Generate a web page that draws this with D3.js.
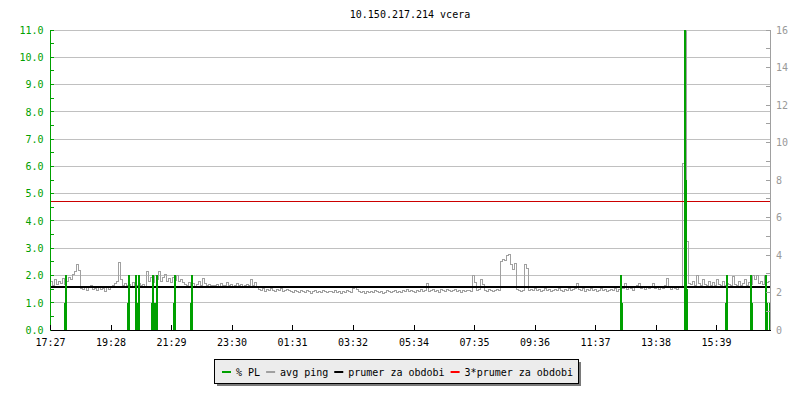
<!DOCTYPE html>
<html>
<head>
<meta charset="utf-8">
<script src="https://cdn.jsdelivr.net/npm/d3@7"></script>
<style>
  body { margin: 0; background: #fff; }
  svg text { font-family: "DejaVu Sans Mono", monospace; font-size: 10px; }
</style>
</head>
<body>
<div id="chart"></div>
<script>
// chart data
const chartTitle = '10.150.217.214 vcera';
const pingStepMinutes = 4;
// avg ping (ms, right axis), one value every 4 minutes from 17:27
const pingAvg = [
  2.6, 2.4, 2.7, 2.45, 2.6, 2.5, 2.75, 2.45, 2.6, 2.8, 2.7, 2.95, 3.1, 3.5, 3.2, 2.2, 2.15, 2.3, 2.1, 2.25,
  2.4, 2.15, 2.2, 2.1, 2.3, 2.15, 2.2, 2.05, 2.25, 2.15, 2.3, 2.35, 2.5, 2.6, 3.6, 2.7, 2.4, 2.5, 2.35, 2.45,
  2.3, 2.55, 2.4, 2.35, 2.5, 2.4, 2.45, 2.3, 3.1, 2.6, 2.8, 2.55, 2.9, 2.7, 3.1, 2.6, 2.8, 2.95, 2.6, 2.75,
  2.55, 2.8, 2.65, 2.9, 2.6, 2.7, 2.55, 2.45, 2.35, 2.55, 2.4, 2.5, 2.3, 2.45, 2.6, 2.4, 2.75, 2.5, 2.35, 2.45,
  2.4, 2.4, 2.35, 2.45, 2.3, 2.5, 2.35, 2.4, 2.55, 2.35, 2.45, 2.3, 2.4, 2.5, 2.35, 2.45, 2.3, 2.4, 2.45, 2.35,
  2.7, 2.4, 2.55, 2.3, 2.15, 2.1, 2.2, 2.05, 2.15, 2.1, 2.2, 2.1, 2.05, 2.15, 2.1, 2.2, 2.05, 2.1, 2.15, 2.1,
  2.05, 2.0, 2.1, 2.05, 2.0, 2.1, 2.05, 2.0, 2.1, 2.05, 1.95, 2.05, 2.1, 2.0, 2.05, 2.0, 2.1, 2.05, 2.0, 2.05,
  2.05, 2.0, 2.1, 2.0, 2.05, 1.95, 2.05, 2.0, 2.1, 2.05, 2.0, 2.2, 2.25, 2.15, 2.05, 2.0, 2.05, 1.95, 2.05, 2.0,
  2.05, 2.0, 2.1, 2.05, 2.0, 2.05, 1.95, 2.0, 2.1, 2.05, 2.0, 2.05, 2.1, 2.0, 2.05, 2.0, 2.1, 2.05, 2.15, 2.05,
  2.1, 2.05, 2.0, 2.1, 2.05, 2.15, 2.05, 2.1, 2.5, 2.05, 2.1, 2.15, 2.05, 2.1, 2.0, 2.15, 2.1, 2.05, 2.15, 2.1,
  2.05, 2.1, 2.15, 2.05, 2.1, 2.0, 2.1, 2.05, 2.1, 2.1, 2.05, 2.93, 2.55, 2.1, 2.15, 2.7, 2.45, 2.1, 2.05, 2.15,
  2.1, 2.05, 2.1, 2.15, 2.1, 3.64, 3.75, 3.7, 3.95, 4.05, 3.5, 3.25, 3.55, 2.15, 2.1, 2.05, 2.1, 3.5, 3.3, 2.1,
  2.15, 2.1, 2.2, 2.1, 2.15, 2.05, 2.1, 2.2, 2.1, 2.15, 2.05, 2.1, 2.15, 2.1, 2.2, 2.1, 2.05, 2.15, 2.1, 2.2,
  2.1, 2.15, 2.2, 2.5, 2.15, 2.1, 2.2, 2.05, 2.15, 2.1, 2.2, 2.1, 2.15, 2.05, 2.1, 2.2, 2.1, 2.15, 2.05, 2.1,
  2.15, 2.1, 2.2, 2.05, 2.15, 2.25, 2.2, 2.5, 2.15, 2.3, 2.2, 2.1, 2.25, 2.35, 2.5, 2.2, 2.3, 2.15, 2.25, 2.2,
  2.3, 2.5, 2.2, 2.25, 2.15, 2.3, 2.2, 2.35, 2.77, 2.25, 2.15, 2.3, 2.2, 2.15, 2.25, 2.3, 8.9, 16, 4.7, 2.5,
  2.45, 2.6, 2.35, 2.93, 2.5, 2.4, 2.7, 2.45, 2.35, 2.6, 2.4, 2.55, 2.35, 2.7, 2.45, 2.4, 2.6, 2.35, 2.5, 2.45,
  2.4, 2.85, 2.45, 2.35, 2.6, 2.4, 2.5, 2.7, 2.4, 2.55, 2.45, 2.9, 2.7, 2.9, 2.5, 2.6, 2.45, 2.93, 2.55, 2.6
];
// packet loss (% PL, left axis): 2-minute samples that were not zero
const lossStepMinutes = 2;
const lossMinutes = [28, 30, 154, 156, 170, 172, 174, 176, 202, 204, 206, 208, 210, 212,
  246, 248, 280, 282, 1140, 1142, 1268, 1270, 1272, 1350, 1352, 1400, 1402, 1430, 1432, 1438];
const lossValues = [1, 2, 1, 2, 2, 1, 1, 2, 1, 2, 1, 1, 1, 2,
  1, 2, 1, 2, 2, 1, 11.5, 5.5, 1.5, 1, 2, 2, 1, 2, 1, 1];
const periodMean = 2.29; // "prumer za obdobi", ms
const totalMinutes = 1440;
const xTickMinutes = [0, 121, 242, 363, 484, 605, 727, 848, 969, 1090, 1211, 1332];
const xTickLabels = ['17:27', '19:28', '21:29', '23:30', '01:31', '03:32', '05:34', '07:35', '09:36', '11:37', '13:38', '15:39'];
const legendLabels = ['% PL', 'avg ping', 'prumer za obdobi', '3*prumer za obdobi'];
const legendColors = ['#00a000', '#a0a0a0', '#000000', '#ff0000'];

const width = 800, height = 400;
const plot = { left: 50, right: 770, top: 30, bottom: 330 };
const green = '#00a000';
const gray = '#a0a0a0';

const svg = d3.select('#chart').append('svg')
  .attr('width', width)
  .attr('height', height);

// scales
const x = d3.scaleLinear().domain([0, totalMinutes]).range([plot.left, plot.right]);
const yLoss = d3.scaleLinear().domain([0, 11]).range([plot.bottom, plot.top]);
const yPing = d3.scaleLinear().domain([0, 16]).range([plot.bottom, plot.top]);

svg.append('defs').append('clipPath').attr('id', 'plot-clip')
  .append('rect')
  .attr('x', plot.left)
  .attr('y', plot.top)
  .attr('width', plot.right - plot.left)
  .attr('height', plot.bottom - plot.top);

// title
svg.append('text')
  .attr('x', (plot.left + plot.right) / 2)
  .attr('y', 18)
  .attr('text-anchor', 'middle')
  .attr('fill', '#000')
  .text(chartTitle);

// horizontal grid on the left axis
svg.append('g')
  .attr('shape-rendering', 'crispEdges')
  .selectAll('line')
  .data(d3.range(1, 12))
  .join('line')
  .attr('x1', plot.left)
  .attr('x2', plot.right)
  .attr('y1', (d) => yLoss(d))
  .attr('y2', (d) => yLoss(d))
  .attr('stroke', '#c0c0c0');

const chart = svg.append('g').attr('clip-path', 'url(#plot-clip)');

// avg ping, drawn as steps like rrdtool does
const pingPoints = pingAvg.map((v, i) => [i * pingStepMinutes, v]);
pingPoints.push([totalMinutes, pingAvg[pingAvg.length - 1]]);
chart.append('path')
  .datum(pingPoints)
  .attr('fill', 'none')
  .attr('stroke', gray)
  .attr('stroke-width', 1)
  .attr('shape-rendering', 'crispEdges')
  .attr('d', d3.line()
    .x((d) => x(d[0]))
    .y((d) => yPing(d[1]))
    .curve(d3.curveStepAfter));

// mean lines
chart.append('line')
  .attr('x1', plot.left).attr('x2', plot.right)
  .attr('y1', yPing(periodMean)).attr('y2', yPing(periodMean))
  .attr('stroke', '#000')
  .attr('stroke-width', 2)
  .attr('shape-rendering', 'crispEdges');
chart.append('line')
  .attr('x1', plot.left).attr('x2', plot.right)
  .attr('y1', yPing(3 * periodMean)).attr('y2', yPing(3 * periodMean))
  .attr('stroke', '#cc0000')
  .attr('stroke-width', 1)
  .attr('shape-rendering', 'crispEdges');

// packet loss, one bar per lossy sample
chart.append('g')
  .attr('shape-rendering', 'crispEdges')
  .selectAll('rect')
  .data(lossMinutes.map((m, i) => ({ minute: m, value: lossValues[i] })))
  .join('rect')
  .attr('x', (d) => Math.round(x(d.minute)))
  .attr('width', (d) => Math.round(x(d.minute + lossStepMinutes)) - Math.round(x(d.minute)) + 1)
  .attr('y', (d) => yLoss(d.value))
  .attr('height', (d) => yLoss(0) - yLoss(d.value))
  .attr('fill', green);

// left axis (% PL)
const leftAxis = svg.append('g')
  .attr('transform', `translate(${plot.left},0)`)
  .attr('shape-rendering', 'crispEdges');
leftAxis.append('line')
  .attr('y1', plot.top).attr('y2', plot.bottom)
  .attr('stroke', green);
leftAxis.selectAll('.minor')
  .data(d3.range(0, 11.5, 0.5))
  .join('line')
  .attr('class', 'minor')
  .attr('x1', 0).attr('x2', 4)
  .attr('y1', (d) => yLoss(d)).attr('y2', (d) => yLoss(d))
  .attr('stroke', green);
leftAxis.selectAll('text')
  .data(d3.range(0, 12))
  .join('text')
  .attr('x', -6.5)
  .attr('y', (d) => yLoss(d))
  .attr('dy', '0.38em')
  .attr('text-anchor', 'end')
  .attr('fill', green)
  .text(d3.format('.1f'));

// right axis (avg ping)
const rightAxis = svg.append('g')
  .attr('transform', `translate(${plot.right},0)`)
  .attr('shape-rendering', 'crispEdges');
rightAxis.append('line')
  .attr('y1', plot.top).attr('y2', plot.bottom)
  .attr('stroke', gray);
rightAxis.selectAll('.minor')
  .data(d3.range(0, 17))
  .join('line')
  .attr('class', 'minor')
  .attr('x1', -4).attr('x2', 0)
  .attr('y1', (d) => yPing(d)).attr('y2', (d) => yPing(d))
  .attr('stroke', gray);
rightAxis.selectAll('text')
  .data(d3.range(0, 17, 2))
  .join('text')
  .attr('x', 6)
  .attr('y', (d) => yPing(d))
  .attr('dy', '0.38em')
  .attr('fill', '#999')
  .text((d) => d);

// bottom time axis
const xAxis = d3.axisBottom(x)
  .tickValues(xTickMinutes)
  .tickFormat((d, i) => xTickLabels[i])
  .tickSize(-5)
  .tickSizeOuter(0)
  .tickPadding(8.5);
const xAxisG = svg.append('g')
  .attr('transform', `translate(0,${plot.bottom})`)
  .attr('shape-rendering', 'crispEdges')
  .call(xAxis);
xAxisG.select('.domain').attr('stroke', '#000');
xAxisG.selectAll('.tick line').attr('stroke', '#000');
xAxisG.selectAll('text')
  .attr('fill', '#000')
  .style('font-family', '"DejaVu Sans Mono", monospace')
  .style('font-size', '10px');

// legend
const legend = svg.append('g');
const box = { x: 214, y: 359, w: 364, h: 24 };
legend.append('rect')
  .attr('x', box.x + 3).attr('y', box.y + 3)
  .attr('width', box.w).attr('height', box.h)
  .attr('fill', '#7a7a7a');
legend.append('rect')
  .attr('x', box.x + 0.5).attr('y', box.y + 0.5)
  .attr('width', box.w).attr('height', box.h)
  .attr('fill', '#ececec')
  .attr('stroke', '#000');
let lx = box.x + 8;
legendLabels.forEach((label, i) => {
  legend.append('rect')
    .attr('x', lx).attr('y', box.y + 12)
    .attr('width', 9).attr('height', 2)
    .attr('fill', legendColors[i]);
  const t = legend.append('text')
    .attr('x', lx + 14)
    .attr('y', box.y + 16.5)
    .attr('fill', '#000')
    .text(label);
  lx += 14 + t.node().getComputedTextLength() + 6;
});
</script>
</body>
</html>
